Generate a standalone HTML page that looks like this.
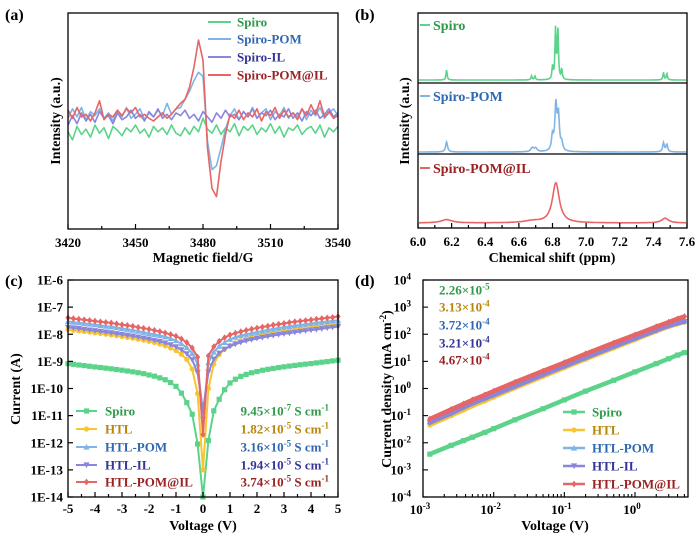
<!DOCTYPE html>
<html><head><meta charset="utf-8"><style>
html,body{margin:0;padding:0;background:#fff;}
svg{display:block;font-family:"Liberation Serif",serif;font-weight:bold;}
</style></head><body>
<svg id="fig" width="700" height="536" viewBox="0 0 700 536" xmlns="http://www.w3.org/2000/svg">
<g id="pa"></g>
<g id="pb"></g>
<g id="pc"></g>
<g id="pd"></g>
</svg>
<script>
// ---------- Panel (a) data ----------
const epField = [3420,3422,3424,3426,3428,3430,3432,3434,3436,3438,3440,3442,3444,3446,3448,3450,3452,3454,3456,3458,3460,3462,3464,3466,3468,3470,3472,3474,3476,3478,3480,3482,3484,3486,3488,3490,3492,3494,3496,3498,3500,3502,3504,3506,3508,3510,3512,3514,3516,3518,3520,3522,3524,3526,3528,3530,3532,3534,3536,3538,3540];
const epGreen = [-0.8,-1.4,-0.4,-1.0,-0.6,-1.2,-0.3,-0.9,-0.5,-1.3,-0.4,-0.7,-1.1,-0.5,-0.8,-0.3,-0.9,-0.6,-1.2,-0.4,-0.8,-0.5,-1.0,-0.3,-0.9,-1.1,-0.5,-1.0,-0.4,-0.8,0.2,-0.6,-0.9,-0.3,-1.0,-0.5,-0.8,-0.2,-1.1,-0.4,-0.7,-0.3,-1.0,-0.5,-0.8,-0.2,-0.9,-0.4,-1.2,-0.5,-0.7,-0.3,-1.0,-0.6,-0.4,-0.9,-0.3,-1.2,-0.5,-0.8,-0.4];
const epBlue = [0.2,0.9,0.3,1.0,0.1,0.7,0.4,0.9,0.2,0.6,0.0,0.8,0.3,1.0,0.2,0.5,0.9,0.1,0.6,0.3,0.8,0.4,1.3,0.5,0.9,1.0,1.6,2.2,3.0,3.6,3.3,-1.5,-3.6,-3.3,-2.0,-0.6,0.4,0.9,0.1,0.7,0.3,1.0,0.2,0.6,0.9,0.1,0.7,0.4,1.0,0.2,0.6,0.3,0.9,0.1,0.8,0.4,1.0,0.2,0.6,0.9,0.4];
const epPurple = [-0.3,0.4,-0.2,0.6,0.0,0.5,-0.1,0.7,0.2,0.4,-0.2,0.6,0.1,0.3,0.8,0.2,0.5,0.0,0.7,0.3,0.9,0.2,0.5,0.1,0.6,0.4,0.8,0.2,0.5,0.0,0.7,0.3,-0.1,0.6,0.2,0.8,0.3,0.5,0.1,0.7,0.3,0.9,0.2,0.6,0.4,0.8,0.1,0.5,0.3,0.9,0.2,0.6,0.0,0.7,0.4,0.8,0.2,0.5,0.9,0.3,0.6];
const epRed = [0.8,0.2,1.0,0.3,0.5,0.0,0.6,1.5,0.1,0.5,0.3,0.8,0.4,0.9,0.6,1.0,0.3,0.5,0.2,0.0,0.3,0.6,0.2,0.5,0.9,1.3,1.6,2.5,4.0,6.0,4.5,-2.0,-5.0,-5.6,-3.0,-1.0,0.5,0.2,0.8,0.1,0.6,0.3,0.9,0.0,0.7,0.4,1.0,0.2,0.8,0.3,0.6,0.1,0.9,0.4,1.2,0.5,1.5,0.3,0.7,0.2,0.4];
const epTicks = [3420,3450,3480,3510,3540];

// ---------- Panel (b) data: peak centers / heights / widths ----------
const nmrSpiroC = [6.17,6.675,6.695,6.80,6.818,6.832,6.855,7.46,7.48];
const nmrSpiroH = [0.2,0.08,0.08,0.25,1.0,1.0,0.2,0.15,0.13];
const nmrSpiroW = [0.004,0.004,0.004,0.004,0.004,0.004,0.004,0.004,0.004];
const nmrPomC = [6.17,6.68,6.70,6.80,6.82,6.835,6.855,7.46,7.48];
const nmrPomH = [0.2,0.08,0.07,0.3,0.9,0.7,0.15,0.18,0.15];
const nmrPomW = [0.007,0.01,0.01,0.007,0.007,0.007,0.007,0.006,0.006];
const nmrIlC = [6.17,6.68,6.82,7.47];
const nmrIlH = [0.07,0.04,0.85,0.1];
const nmrIlW = [0.04,0.06,0.025,0.025];
const nmrTicks = [6.0,6.2,6.4,6.6,6.8,7.0,7.2,7.4,7.6];

// ---------- Panel (c) data ----------
const ivVolt = [0,0.2,0.4,0.6,0.8,1.0,1.2,1.4,1.6,1.8,2.0,2.2,2.4,2.6,2.8,3.0,3.2,3.4,3.6,3.8,4.0,4.2,4.4,4.6,4.8,5.0];
const ivSpiro = [1e-14,1.2e-12,1.5e-11,4e-11,9e-11,1.6e-10,2.2e-10,2.8e-10,3.3e-10,3.8e-10,4.2e-10,4.7e-10,5.1e-10,5.5e-10,5.9e-10,6.3e-10,6.7e-10,7.1e-10,7.5e-10,7.9e-10,8.3e-10,8.8e-10,9.3e-10,9.8e-10,1.04e-9,1.1e-9];
const ivHTL = [1e-13,1e-10,8e-10,1.8e-9,2.8e-9,3.8e-9,4.8e-9,5.8e-9,6.7e-9,7.6e-9,8.5e-9,9.3e-9,1.01e-8,1.1e-8,1.18e-8,1.27e-8,1.36e-8,1.45e-8,1.55e-8,1.65e-8,1.75e-8,1.85e-8,1.95e-8,2.05e-8,2.15e-8,2.3e-8];
const ivPOM = [1e-11,9e-10,2.2e-9,3.6e-9,5e-9,6.5e-9,7.8e-9,9e-9,1e-8,1.1e-8,1.2e-8,1.32e-8,1.45e-8,1.58e-8,1.7e-8,1.83e-8,1.95e-8,2.1e-8,2.2e-8,2.35e-8,2.5e-8,2.65e-8,2.8e-8,2.95e-8,3.1e-8,3.3e-8];
const ivIL = [1.5e-11,4e-10,1.2e-9,2e-9,2.8e-9,3.6e-9,4.3e-9,5e-9,5.7e-9,6.3e-9,7e-9,7.6e-9,8.3e-9,9e-9,9.7e-9,1.04e-8,1.1e-8,1.18e-8,1.26e-8,1.34e-8,1.42e-8,1.5e-8,1.6e-8,1.7e-8,1.8e-8,1.9e-8];
const ivPOMIL = [2e-12,1.6e-9,3.5e-9,5.5e-9,7.5e-9,9.5e-9,1.1e-8,1.25e-8,1.4e-8,1.55e-8,1.7e-8,1.85e-8,2e-8,2.2e-8,2.35e-8,2.5e-8,2.7e-8,2.9e-8,3.05e-8,3.2e-8,3.4e-8,3.6e-8,3.8e-8,4e-8,4.2e-8,4.5e-8];
const ivNegRatio = [0.75,0.65,0.9,0.95,0.9];
const ivYTicks = ["1E-6","1E-7","1E-8","1E-9","1E-10","1E-11","1E-12","1E-13","1E-14"];
const ivXTicks = [-5,-4,-3,-2,-1,0,1,2,3,4,5];
const ivLabels = ["Spiro","HTL","HTL-POM","HTL-IL","HTL-POM@IL"];
const ivCond = ["9.45×10","1.82×10","3.16×10","1.94×10","3.74×10"];
const ivCondExp = ["-7","-5","-5","-5","-5"];

// ---------- Panel (d) data ----------
const jvVolt = [0.00125,0.0025,0.00375,0.005,0.0075,0.01,0.02,0.05,0.1,0.2,0.5,1,2,3,4,5];
const jvSpiro = [0.0038,0.008,0.012,0.016,0.024,0.033,0.07,0.18,0.38,0.8,2.0,4.1,8.3,12.5,17,21];
const jvHTL = [0.045,0.1,0.16,0.23,0.35,0.48,1.05,2.8,5.8,12,31,63,128,190,240,280];
const jvPOM = [0.06,0.13,0.21,0.3,0.45,0.62,1.3,3.4,7,14.5,37,74,150,220,270,310];
const jvIL = [0.055,0.12,0.2,0.28,0.42,0.57,1.2,3.2,6.6,13.5,35,70,140,205,255,290];
const jvPOMIL = [0.075,0.17,0.27,0.38,0.58,0.8,1.7,4.4,9,19,48,95,190,280,370,450];
const jvMob = ["2.26×10","3.13×10","3.72×10","3.21×10","4.67×10"];
const jvMobExp = ["-5","-4","-4","-4","-4"];

const LC = ["#5cd38a","#f7c531","#7fb5e6","#8a86dc","#e66565"]; // line colors
const TC = ["#2e9a4a","#b8860b","#2f68b0","#34349a","#9a2222"]; // text colors
const NS = "http://www.w3.org/2000/svg";
function mk(parent, tag, attrs, text){
  const e = document.createElementNS(NS, tag);
  for (const k in attrs) e.setAttribute(k, attrs[k]);
  if (text !== undefined) e.textContent = text;
  parent.appendChild(e); return e;
}
function frame(g, x0, y0, x1, y1){
  const r = mk(g,'rect',{x:x0,y:y0,width:x1-x0,height:y1-y0,fill:'none',stroke:'#000','stroke-width':1.3});
  
  
}
function pts(xs, ys){ return xs.map((x,i)=>x.toFixed(1)+','+ys[i].toFixed(1)).join(' '); }
function marker(g, type, x, y, c){
  let e;
  const s=2.6;
  if(type===0) e=mk(g,'rect',{x:x-s,y:y-s,width:2*s,height:2*s,fill:c});
  else if(type===1) e=mk(g,'circle',{cx:x,cy:y,r:s,fill:c});
  else if(type===2) e=mk(g,'polygon',{points:`${x},${y-s-0.5} ${x-s-0.5},${y+s} ${x+s+0.5},${y+s}`,fill:c});
  else if(type===3) e=mk(g,'polygon',{points:`${x},${y+s+0.5} ${x-s-0.5},${y-s} ${x+s+0.5},${y-s}`,fill:c});
  else e=mk(g,'polygon',{points:`${x},${y-s-0.8} ${x+s},${y} ${x},${y+s+0.8} ${x-s},${y}`,fill:c});
  
  
}

// ===== Panel (a) =====
(function(){
  const g=document.getElementById('pa');
  const X0=68,X1=338,Y0=13,Y1=229;
  const sx=v=>X0+(v-3420)/120*(X1-X0);
  const sy=v=>Y1-(v+8)/16*(Y1-Y0);
  const series=[epGreen,epBlue,epPurple,epRed];
  const cols=[LC[0],LC[2],LC[3],LC[4]];
  const names=['spiro','spiro-pom','spiro-il','spiro-pom-il'];
  series.forEach((s,i)=>{
    const p=mk(g,'polyline',{points:pts(epField.map(sx),s.map(sy)),fill:'none',stroke:cols[i],'stroke-width':1.6,'stroke-linejoin':'round'});
    
    
  });
  frame(g,X0,Y0,X1,Y1);
  for(let v=3420;v<=3540;v+=15){
    const x=sx(v), major=(v-3420)%30===0;
    mk(g,'line',{x1:x,y1:Y1,x2:x,y2:Y1-(major?5:3),stroke:'#000','stroke-width':1.2});
  }
  epTicks.forEach(v=>{
    const t=mk(g,'text',{x:sx(v),y:247,'text-anchor':'middle','font-size':13},String(v));
    
    
  });
  let t=mk(g,'text',{x:203,y:262,'text-anchor':'middle','font-size':14},'Magnetic field/G');
   
  t=mk(g,'text',{x:0,y:0,transform:'translate(60,121) rotate(-90)','text-anchor':'middle','font-size':14},'Intensity (a.u.)');
   
  t=mk(g,'text',{x:5,y:20,'font-size':16},'(a)');
   
  const labs=['Spiro','Spiro-POM','Spiro-IL','Spiro-POM@IL'];
  const ly=[22,39,57,75];
  const tcs=[TC[0],TC[2],TC[3],TC[4]];
  labs.forEach((l,i)=>{
    const ln=mk(g,'line',{x1:208,y1:ly[i],x2:231,y2:ly[i],stroke:cols[i],'stroke-width':2});
     
    const tx=mk(g,'text',{x:237,y:ly[i]+4.5,'font-size':13,fill:tcs[i]},l);
     
  });
})();

// ===== Panel (b) =====
(function(){
  const g=document.getElementById('pb');
  const X0=418,X1=687,Y0=13,Y1=228;
  const sx=v=>X0+(v-6.0)/1.6*(X1-X0);
  const subs=[[nmrSpiroC,nmrSpiroH,nmrSpiroW,80,50,LC[0],'spiro'],[nmrPomC,nmrPomH,nmrPomW,152,50,LC[2],'spiro-pom'],[nmrIlC,nmrIlH,nmrIlW,223,47,LC[4],'spiro-pom-il']];
  subs.forEach(sb=>{
    const [C,H,W,base,scale,col,nm]=sb;
    const xs=[],ys=[];
    for(let px=X0+1;px<=X1-1;px+=0.5){
      const v=6.0+(px-X0)/(X1-X0)*1.6;
      let s=0;
      for(let k=0;k<C.length;k++){const d=(v-C[k])/W[k]; s+=H[k]/(1+d*d);}
      xs.push(px); ys.push(base-s*scale);
    }
    const p=mk(g,'polyline',{points:pts(xs,ys),fill:'none',stroke:col,'stroke-width':1.6});
     
  });
  frame(g,X0,Y0,X1,Y1);
  [83,154].forEach(y=>{const l=mk(g,'line',{x1:X0,y1:y,x2:X1,y2:y,stroke:'#000','stroke-width':1.2});
     });
  for(let v=6.0;v<=7.61;v+=0.1){
    const x=sx(v), major=Math.round(v*10)%2===0;
    mk(g,'line',{x1:x,y1:Y1,x2:x,y2:Y1-(major?5:3),stroke:'#000','stroke-width':1.2});
  }
  nmrTicks.forEach(v=>{
    const t=mk(g,'text',{x:sx(v),y:246,'text-anchor':'middle','font-size':13},v.toFixed(1));
     
  });
  let t=mk(g,'text',{x:552,y:262,'text-anchor':'middle','font-size':14},'Chemical shift (ppm)');
   
  t=mk(g,'text',{x:0,y:0,transform:'translate(409,121) rotate(-90)','text-anchor':'middle','font-size':14},'Intensity (a.u.)');
   
  t=mk(g,'text',{x:355,y:20,'font-size':16},'(b)');
   
  const labs=[['Spiro',25,LC[0],TC[0]],['Spiro-POM',96,LC[2],TC[2]],['Spiro-POM@IL',168,LC[4],TC[4]]];
  labs.forEach(l=>{
    const ln=mk(g,'line',{x1:420,y1:l[1],x2:430,y2:l[1],stroke:l[2],'stroke-width':2});
     
    const tx=mk(g,'text',{x:433,y:l[1]+5,'font-size':14,fill:l[3]},l[0]);
     
  });
})();

// ===== Panel (c) =====
(function(){
  const g=document.getElementById('pc');
  const X0=68,X1=338,Y0=280,Y1=497;
  const sx=v=>X0+(v+5)/10*(X1-X0);
  const sy=v=>Y0+(-6-Math.log10(v))/8*(Y1-Y0);
  const series=[ivSpiro,ivHTL,ivPOM,ivIL,ivPOMIL];
  const names=['spiro','htl','htl-pom','htl-il','htl-pom-il'];
  series.forEach((s,i)=>{
    const neg=s.map(v=>v*ivNegRatio[i]);
    const xs=[],ys=[];
    for(let k=ivVolt.length-1;k>=1;k--){xs.push(sx(-ivVolt[k]));ys.push(sy(neg[k]));}
    xs.push(sx(0)); ys.push(sy(s[0]));
    for(let k=1;k<ivVolt.length;k++){xs.push(sx(ivVolt[k]));ys.push(sy(s[k]));}
    const p=mk(g,'polyline',{points:pts(xs,ys),fill:'none',stroke:LC[i],'stroke-width':2});
     
    xs.forEach((x,k)=>marker(g,i,x,ys[k],LC[i]));
  });
  frame(g,X0,Y0,X1,Y1);
  ivXTicks.forEach(v=>{
    mk(g,'line',{x1:sx(v),y1:Y1,x2:sx(v),y2:Y1-5,stroke:'#000','stroke-width':1.2});
    if(v<5) mk(g,'line',{x1:sx(v+0.5),y1:Y1,x2:sx(v+0.5),y2:Y1-3,stroke:'#000','stroke-width':1.2});
    const t=mk(g,'text',{x:sx(v),y:513,'text-anchor':'middle','font-size':13},String(v));
     
  });
  ivYTicks.forEach((l,i)=>{
    const y=Y0+i*(Y1-Y0)/8;
    mk(g,'line',{x1:X0,y1:y,x2:X0+5,y2:y,stroke:'#000','stroke-width':1.2});
    const t=mk(g,'text',{x:63,y:y+4.5,'text-anchor':'end','font-size':13},l);
     
  });
  let t=mk(g,'text',{x:203,y:530,'text-anchor':'middle','font-size':14},'Voltage (V)');
   
  t=mk(g,'text',{x:0,y:0,transform:'translate(20,389) rotate(-90)','text-anchor':'middle','font-size':14},'Current (A)');
   
  t=mk(g,'text',{x:5,y:286,'font-size':16},'(c)');
   
  const ly=[411,429,447,465,482];
  ivLabels.forEach((l,i)=>{
    const ln=mk(g,'line',{x1:76,y1:ly[i],x2:97,y2:ly[i],stroke:LC[i],'stroke-width':2});
     
    marker(g,i,86.5,ly[i],LC[i]);
    const tx=mk(g,'text',{x:105,y:ly[i]+4.5,'font-size':13,fill:TC[i]},l);
     
    const c=mk(g,'text',{x:329,y:ly[i]+4.5,'text-anchor':'end','font-size':13,fill:TC[i]});
     
    mk(c,'tspan',{},ivCond[i]);
    mk(c,'tspan',{dy:-5,'font-size':9},ivCondExp[i]);
    mk(c,'tspan',{dy:5},' S cm');
    mk(c,'tspan',{dy:-5,'font-size':9},'-1');
  });
})();

// ===== Panel (d) =====
(function(){
  const g=document.getElementById('pd');
  const X0=423,X1=688,Y0=280,Y1=497;
  const dec=(635-423)/3;
  const sx=v=>X0+(Math.log10(v)+3)*dec;
  const sy=v=>Y0+(4-Math.log10(v))/8*(Y1-Y0);
  const series=[jvSpiro,jvHTL,jvPOM,jvIL,jvPOMIL];
  const names=['spiro','htl','htl-pom','htl-il','htl-pom-il'];
  series.forEach((s,i)=>{
    const xs=jvVolt.map(sx), ys=s.map(sy);
    const p=mk(g,'polyline',{points:pts(xs,ys),fill:'none',stroke:LC[i],'stroke-width':4.5,'stroke-linecap':'round'});
     
    xs.forEach((x,k)=>marker(g,i,x,ys[k],LC[i]));
  });
  frame(g,X0,Y0,X1,Y1);
  for(let e=-3;e<=0;e++){
    for(let m=1;m<10;m++){
      const x=X0+(e+3+Math.log10(m))*dec;
      if(x>X1) break;
      mk(g,'line',{x1:x,y1:Y1,x2:x,y2:Y1-(m===1?5:3),stroke:'#000','stroke-width':1.1});
    }
    const t=mk(g,'text',{x:sx(Math.pow(10,e))-3,y:514,'text-anchor':'middle','font-size':13});
     
    mk(t,'tspan',{},'10'); mk(t,'tspan',{dy:-5,'font-size':9},String(e));
  }
  for(let e=4;e>=-4;e--){
    const y=sy(Math.pow(10,e));
    mk(g,'line',{x1:X0,y1:y,x2:X0+5,y2:y,stroke:'#000','stroke-width':1.1});
    const t=mk(g,'text',{x:411,y:y+4.5,'text-anchor':'end','font-size':13});
     
    mk(t,'tspan',{},'10'); mk(t,'tspan',{dy:-5,'font-size':9},String(e));
  }
  let t=mk(g,'text',{x:555,y:530,'text-anchor':'middle','font-size':14},'Voltage (V)');
   
  t=mk(g,'text',{x:0,y:0,transform:'translate(391,389) rotate(-90)','text-anchor':'middle','font-size':14});
   
  mk(t,'tspan',{},'Current density (mA cm'); mk(t,'tspan',{dy:-5,'font-size':9},'-2'); mk(t,'tspan',{dy:5},')');
  t=mk(g,'text',{x:355,y:286,'font-size':16},'(d)');
   
  const my=[290,307,325,343,360];
  jvMob.forEach((m,i)=>{
    const tx=mk(g,'text',{x:439,y:my[i]+4.5,'font-size':13,fill:TC[i]});
     
    mk(tx,'tspan',{},m); mk(tx,'tspan',{dy:-5,'font-size':9},jvMobExp[i]);
  });
  const ly=[412,430,448,466,484];
  ivLabels.forEach((l,i)=>{
    const ln=mk(g,'line',{x1:563,y1:ly[i],x2:585,y2:ly[i],stroke:LC[i],'stroke-width':2.5});
     
    marker(g,i,574,ly[i],LC[i]);
    const tx=mk(g,'text',{x:592,y:ly[i]+4.5,'font-size':13,fill:TC[i]},l);
     
  });
})();
</script>
</body></html>
